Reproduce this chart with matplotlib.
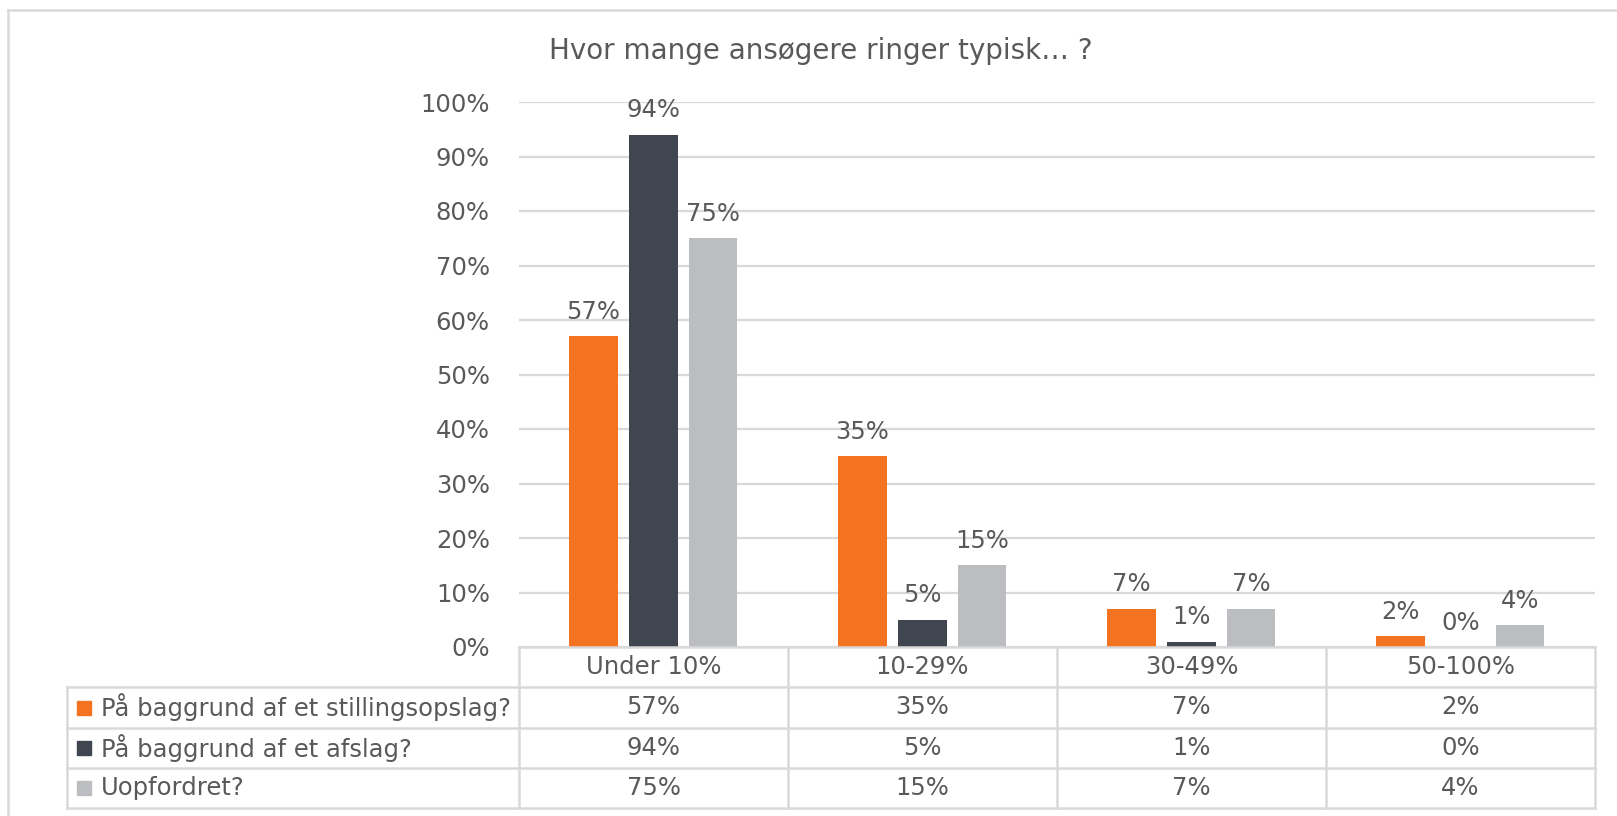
import numpy as np
import matplotlib
matplotlib.use("Agg")
import matplotlib.pyplot as plt
from matplotlib.patches import Rectangle

categories = ["Under 10%", "10-29%", "30-49%", "50-100%"]
series_names = ["På baggrund af et stillingsopslag?",
                "På baggrund af et afslag?",
                "Uopfordret?"]
stillingsopslag = [57, 35, 7, 2]
afslag = [94, 5, 1, 0]
uopfordret = [75, 15, 7, 4]
colors = ["#F37321", "#3F4650", "#BCBDC0"]
title = "Hvor mange ansøgere ringer typisk… ?"

txt = "#595959"
grid = "#D9D9D9"
fs = 17.5
W, H = 1617, 816

fig = plt.figure(figsize=(W / 100, H / 100), dpi=100)
# plot area in pixels: x 519..1595, y 102..647
ax = fig.add_axes([519 / W, 1 - 647 / H, (1595 - 519) / W, (647 - 102) / H])

x = np.arange(len(categories))
width = 0.18
offsets = [-0.223, 0, 0.221]
all_series = [stillingsopslag, afslag, uopfordret]
for vals, off, c in zip(all_series, offsets, colors):
    bars = ax.bar(x + off, vals, width, color=c, zorder=3)
    for b, v in zip(bars, vals):
        ax.annotate(f"{v}%", (b.get_x() + b.get_width() / 2, v),
                    xytext=(0, 9), textcoords="offset points",
                    ha="center", va="bottom", fontsize=fs, color=txt,
                    annotation_clip=False)

ax.set_xlim(-0.5, len(categories) - 0.5)
ax.set_ylim(0, 100)
ax.set_yticks(range(0, 101, 10))
ax.set_yticklabels([f"{t}%" for t in range(0, 101, 10)], fontsize=fs, color=txt)
ax.tick_params(axis="y", length=0, pad=21)
ax.set_xticks([])
ax.yaxis.grid(True, color=grid, linewidth=1.6, zorder=0)
for s in ax.spines.values():
    s.set_visible(False)

fig.text(821 / W, 1 - 51 / H, title, ha="center", va="center",
         fontsize=20, color=txt)

# data table drawn in pixel coordinates of the figure
def px(xp, yp):
    return xp / W, 1 - yp / H

lw = 1.8
col_edges = [519 + i * (1595 - 519) / len(categories) for i in range(len(categories) + 1)]
row_edges = [647, 687, 728, 768, 808]
left = 67

def hline(x0, x1, y):
    a, b = px(x0, y), px(x1, y)
    fig.add_artist(plt.Line2D([a[0], b[0]], [a[1], b[1]], color=grid, lw=lw))

def vline(xp, y0, y1):
    a, b = px(xp, y0), px(xp, y1)
    fig.add_artist(plt.Line2D([a[0], b[0]], [a[1], b[1]], color=grid, lw=lw))

hline(col_edges[0], col_edges[-1], row_edges[0])
for y in row_edges[1:]:
    hline(left, col_edges[-1], y)
for xe in col_edges:
    vline(xe, row_edges[0], row_edges[-1])
vline(left, row_edges[1], row_edges[-1])

for i, cat in enumerate(categories):
    cx = (col_edges[i] + col_edges[i + 1]) / 2
    cy = (row_edges[0] + row_edges[1]) / 2
    fig.text(*px(cx, cy), cat, ha="center", va="center", fontsize=fs, color=txt)

for r, (name, vals, c) in enumerate(zip(series_names, all_series, colors)):
    cy = (row_edges[r + 1] + row_edges[r + 2]) / 2
    x0, y0 = px(77, cy + 7)
    fig.add_artist(Rectangle((x0, y0), 14 / W, 14 / H, color=c,
                             transform=fig.transFigure))
    fig.text(*px(101, cy), name, ha="left", va="center", fontsize=fs, color=txt)
    for i, v in enumerate(vals):
        cx = (col_edges[i] + col_edges[i + 1]) / 2
        fig.text(*px(cx, cy), f"{v}%", ha="center", va="center",
                 fontsize=fs, color=txt)

# outer chart border
hline(8, W, 10)
vline(8, 10, H)

fig.savefig("out.png", dpi=100, facecolor="white")
